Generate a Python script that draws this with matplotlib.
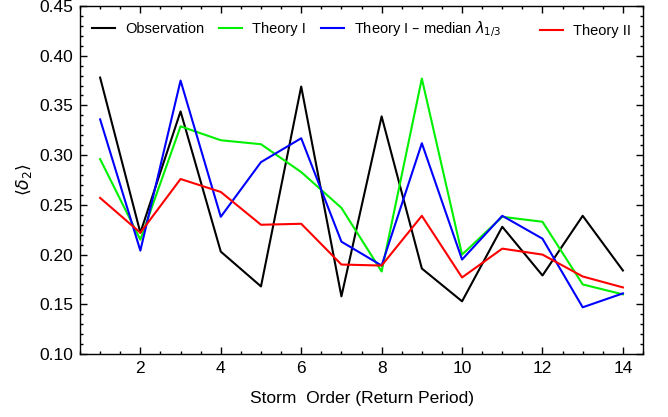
import numpy as np
import matplotlib
matplotlib.use("Agg")
import matplotlib.pyplot as plt
from matplotlib.ticker import MultipleLocator, FormatStrFormatter

plt.rcParams['font.family'] = ['Liberation Sans', 'DejaVu Sans']
plt.rcParams['mathtext.fontset'] = 'dejavusans'

storm_order = np.arange(1, 15)
observation = [0.378, 0.222, 0.344, 0.203, 0.168, 0.369, 0.158, 0.339, 0.186, 0.153, 0.228, 0.179, 0.239, 0.184]
theory_1 = [0.296, 0.215, 0.329, 0.315, 0.311, 0.283, 0.247, 0.183, 0.377, 0.200, 0.238, 0.233, 0.170, 0.160]
theory_1_median = [0.336, 0.204, 0.375, 0.238, 0.293, 0.317, 0.213, 0.189, 0.312, 0.195, 0.239, 0.216, 0.147, 0.161]
theory_2 = [0.257, 0.222, 0.276, 0.263, 0.230, 0.231, 0.190, 0.189, 0.239, 0.177, 0.206, 0.200, 0.178, 0.167]

fig = plt.figure(figsize=(6.68, 4.17), dpi=100)
ax = fig.add_axes([0.1198, 0.151, 0.8428, 0.8346])

lw = 1.5
l_obs, = ax.plot(storm_order, observation, color='black', lw=lw, label='Observation')
l_t1, = ax.plot(storm_order, theory_1, color='#00f000', lw=lw, label='Theory I')
l_t1m, = ax.plot(storm_order, theory_1_median, color='#0000ff', lw=lw,
                 label=r'Theory I – median $\lambda_{1/3}$')
l_t2, = ax.plot(storm_order, theory_2, color='#ff0000', lw=lw, label='Theory II')

ax.set_xlim(0.5, 14.5)
ax.set_ylim(0.10, 0.45)
ax.xaxis.set_major_locator(MultipleLocator(2))
ax.xaxis.set_minor_locator(MultipleLocator(0.5))
ax.yaxis.set_major_locator(MultipleLocator(0.05))
ax.yaxis.set_minor_locator(MultipleLocator(0.01))
ax.yaxis.set_major_formatter(FormatStrFormatter('%.2f'))
ax.tick_params(which='both', direction='in', top=True, right=True,
               labeltop=False, labelright=False, width=1.0)
ax.tick_params(which='major', length=5, labelsize=12.5, pad=5)
ax.tick_params(which='minor', length=2.5)
for sp in ax.spines.values():
    sp.set_linewidth(1.0)

ax.set_xlabel('Storm  Order (Return Period)', fontsize=12.5, labelpad=11)
ax.set_ylabel(r'$\langle\delta_2\rangle$', fontsize=12.5, labelpad=4)

leg_y = 0.934
leg1 = ax.legend(handles=[l_obs, l_t1, l_t1m], loc='center left', ncol=3,
                 frameon=False, fontsize=10.5, handlelength=1.6,
                 handletextpad=0.7, columnspacing=1.0,
                 bbox_to_anchor=(0.0, leg_y), borderaxespad=0.4)
ax.add_artist(leg1)
ax.legend(handles=[l_t2], loc='center right', frameon=False, fontsize=10.5,
          handlelength=1.6, handletextpad=0.7,
          bbox_to_anchor=(1.0, leg_y - 0.006), borderaxespad=0.4)

fig.savefig('out.png', dpi=100)
